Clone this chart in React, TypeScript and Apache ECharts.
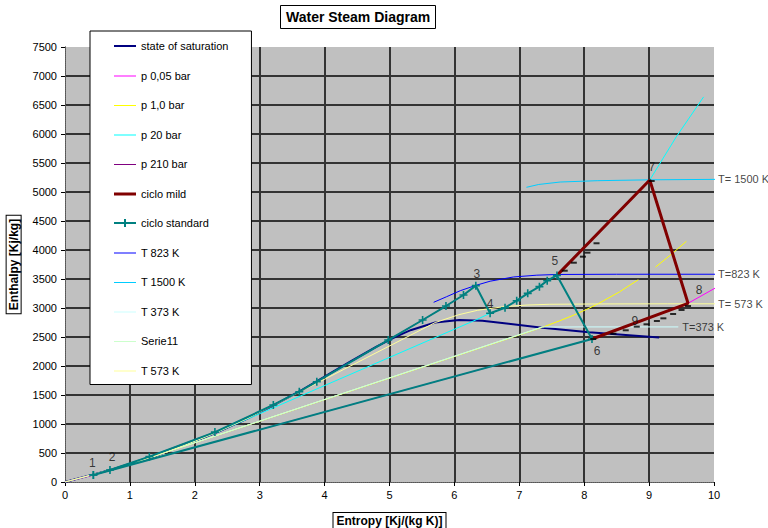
import React, { useEffect, useRef } from 'react';
import * as echarts from 'echarts';

// ---------- data (entropy s [kJ/(kg K)], enthalpy h [kJ/kg]) ----------
const satS = [0, 0.704, 1.307, 1.842, 2.331, 2.793, 3.255, 3.66, 3.916, 4.111, 4.407, 4.8, 5.054, 5.212, 5.336, 5.704, 6.073, 6.431, 6.837, 7.354, 8.075, 9.155];
const satH = [0, 209, 419, 632, 852, 1086, 1345, 1594, 1761, 1891, 2084, 2334, 2481, 2563, 2622, 2749, 2795, 2780, 2730, 2660, 2580, 2490];

const p005S = [0, 0.437, 8.12, 9.6, 10.1];
const p005H = [0, 121, 2466, 3081, 3395];

const p1S = [0, 0.704, 1.303, 7.359, 7.614, 7.834, 8.033, 8.216, 8.544, 8.834, null, 9.098, 9.345, 9.575];
const p1H = [0, 209, 417, 2668, 2776, 2875, 2974, 3074, 3278, 3488, null, 3705, 3928, 4150];

const p20S = [0, 0.704, 1.307, 1.842, 2.331, 2.447, 6.34, 6.55, 6.78, 6.96, 7.13, 7.31, 7.43, 7.58, 9.01, 9.42, 9.84];
const p20H = [0, 209, 419, 632, 852, 909, 2799, 2910, 3005, 3126, 3253, 3368, 3471, 3562, 5207, 5953, 6640];

const p210S = [0, 0.693, 1.3, 2.31, 3.21, 3.61, 3.88, 4.98, 5.51, 5.87, 6.14, 6.33];
const p210H = [0, 207, 437, 860, 1328, 1557, 1729, 2448, 2793, 3034, 3224, 3385];

const mildS = [7.58, 9.01, 9.6, 8.12];
const mildH = [3562, 5207, 3081, 2466];

const mildDashS = [7.7, 7.84, 7.98, 8.05, 8.19, 9.04, 9.6, 9.5, 9.37, 9.22, 9.12, 8.96, 8.81, 8.64, 8.45, 8.14];
const mildDashH = [3643, 3781, 3885, 3954, 4116, 5190, 3034, 2966, 2897, 2822, 2776, 2719, 2678, 2616, 2557, 2466];

const stdS = [0.437, 0.693, 1.3, 2.31, 3.21, 3.61, 3.88, 4.98, 5.51, 5.87, 6.14, 6.33, 6.55, 6.78, 6.96, 7.13, 7.31, 7.43, 7.58, 8.12, 0.437];
const stdH = [121, 207, 437, 860, 1328, 1557, 1729, 2448, 2793, 3034, 3224, 3385, 2910, 3005, 3126, 3253, 3368, 3471, 3562, 2466, 121];

const t823S = [5.68, 5.88, 6.09, 6.33, 6.55, 6.91, 7.27, 7.58, 8.5, 10.2];
const t823H = [3098, 3195, 3298, 3390, 3462, 3535, 3566, 3578, 3582, 3582];

const t1500S = [7.11, 7.3, 7.63, 8.2, 9.01, 10.2];
const t1500H = [5081, 5130, 5172, 5195, 5210, 5219];

const t373S = [0, 0.704, 1.307, 7.354, 8.0, 8.8, 9.45];
const t373H = [0, 209, 419, 2672, 2674, 2674, 2674];

const s11S = [1.307, 7.354];
const s11H = [419, 2672];

const t573S = [0, 0.704, 1.307, 1.842, 2.331, 2.793, 3.255, 5.704, 6.07, 6.36, 6.77, 7.12, 7.46, 8.22, 9.28, 10.2];
const t573H = [0, 209, 419, 632, 852, 1086, 1345, 2749, 2885, 2961, 3024, 3051, 3064, 3070, 3072, 3072];

const pointNames = ['1', '2', '3', '4', '5', '6', '7', '8', '9'];
const pointS = [0.437, 0.693, 6.33, 6.55, 7.58, 8.12, 9.01, 9.6, 8.78];
const pointH = [121, 207, 3385, 2910, 3562, 2466, 5207, 3081, 2781];

const tempNames = ['T= 1500 K', 'T=823 K', 'T= 573 K', 'T=373 K'];
const tempS = [10, 10, 10, 9.45];
const tempH = [5219, 3582, 3072, 2674];

const xTicks = { min: 0, max: 10, interval: 1 };
const yTicks = { min: 0, max: 7500, interval: 500 };

// ---------- styling ----------
const FONT = '"Liberation Sans", Arial, Helvetica, sans-serif';
const pointOffsets: number[][] = [[-1, -12], [2, -13], [1, -12], [0, -9], [-2, -14], [5, 12], [2, -13], [11, -13], [0, 0]];

function pairs(s: (number | null)[], h: (number | null)[]) {
  return s.map((v, i) => (v == null || h[i] == null ? '-' : [v, h[i]]));
}

function lineSeries(name: string, s: (number | null)[], h: (number | null)[], color: string, width: number, z: number) {
  return {
    type: 'line',
    name,
    data: pairs(s, h),
    symbol: 'none',
    showSymbol: false,
    connectNulls: false,
    lineStyle: { color, width },
    itemStyle: { color },
    z,
    silent: true,
  };
}

const CROSS = 'path://M4,0L6,0L6,4L10,4L10,6L6,6L6,10L4,10L4,6L0,6L0,4L4,4Z';
const ICON1 = 'path://M0,0L0,14M0,7H22V8H0Z';
const ICON2 = 'path://M0,0L0,14M0,6H22V8H0Z';
const ICON3 = 'path://M0,0L0,14M0,6H22V9H0Z';
const ICONX = 'path://M0,0L0,14M0,6H22V8H0ZM10,3H12V11H10Z';

export default function App() {
  const ref = useRef<HTMLDivElement>(null);
  useEffect(() => {
    if (!ref.current) return;
    const chart = echarts.init(ref.current, null, { renderer: 'svg' });
    const dotted = { color: '#555', width: 1, type: [1, 1] as any };
    const legendItems = [
      { name: 'state of saturation', icon: ICON2 },
      { name: 'p 0,05 bar', icon: ICON1 },
      { name: 'p 1,0 bar', icon: ICON1 },
      { name: 'p 20 bar', icon: ICON1 },
      { name: 'p 210 bar', icon: ICON1 },
      { name: 'ciclo mild', icon: ICON3 },
      { name: 'ciclo standard', icon: ICONX },
      { name: 'T 823 K', icon: ICON1 },
      { name: 'T 1500 K', icon: ICON1 },
      { name: 'T 373 K', icon: ICON1 },
      { name: 'Serie11', icon: ICON1 },
      { name: 'T 573 K', icon: ICON1 },
    ];
    const option: any = {
      animation: false,
      backgroundColor: '#ffffff',
      title: {
        text: 'Water Steam Diagram',
        left: 280,
        top: 5,
        padding: [5, 6],
        borderColor: '#000',
        borderWidth: 1,
        backgroundColor: '#fff',
        textStyle: { fontFamily: FONT, fontSize: 14, fontWeight: 'bold', color: '#000' },
      },
      legend: {
        orient: 'vertical',
        left: 90,
        top: 31,
        itemWidth: 22,
        itemHeight: 14,
        itemGap: 15.5,
        padding: [8, 23, 7, 24],
        backgroundColor: '#fff',
        borderColor: '#000',
        borderWidth: 1,
        selectedMode: false,
        symbolKeepAspect: true,
        textStyle: { fontFamily: FONT, fontSize: 11, color: '#000', lineHeight: 14 },
        data: legendItems,
        z: 20,
      },
      grid: {
        left: 65, right: 54, top: 47, bottom: 46,
        containLabel: false,
        outerBoundsMode: 'none',
        show: true, backgroundColor: '#c0c0c0', borderWidth: 0,
      },
      xAxis: [
        {
          type: 'value', ...xTicks,
          name: 'Entropy [Kj/(kg K)]',
          nameLocation: 'middle',
          nameGap: 31,
          nameTextStyle: {
            fontFamily: FONT, fontSize: 12, fontWeight: 'bold', color: '#000',
            borderColor: '#000', borderWidth: 1, backgroundColor: '#fff', padding: [2, 3, 1, 3],
          },
          axisLine: { show: true, onZero: false, lineStyle: dotted },
          axisTick: { show: true, length: 4, lineStyle: { color: '#000', width: 1 } },
          axisLabel: { fontFamily: FONT, fontSize: 11, color: '#000', margin: 7, showMinLabel: true, showMaxLabel: true, formatter: (v: number) => String(v) },
          splitLine: { show: true, showMinLine: false, showMaxLine: false, lineStyle: { color: '#333', width: 2 } },
        },
        {
          type: 'value', ...xTicks, position: 'top',
          axisLine: { show: true, lineStyle: dotted },
          axisTick: { show: false }, axisLabel: { show: false }, splitLine: { show: false },
        },
      ],
      yAxis: [
        {
          type: 'value', ...yTicks,
          name: 'Enthalpy [Kj/kg]',
          nameLocation: 'middle',
          nameRotate: 90,
          nameGap: 40,
          nameTextStyle: {
            fontFamily: FONT, fontSize: 12, fontWeight: 'bold', color: '#000',
            borderColor: '#000', borderWidth: 1, backgroundColor: '#fff', padding: [1, 3, 1, 3],
          },
          axisLine: { show: true, onZero: false, lineStyle: dotted },
          axisTick: { show: true, length: 4, lineStyle: { color: '#000', width: 1 } },
          axisLabel: { fontFamily: FONT, fontSize: 11, color: '#000', margin: 8, showMinLabel: true, showMaxLabel: true, formatter: (v: number) => String(v) },
          splitLine: { show: true, showMinLine: false, showMaxLine: false, lineStyle: { color: '#333', width: 2 } },
        },
        {
          type: 'value', ...yTicks, position: 'right',
          axisLine: { show: true, lineStyle: dotted },
          axisTick: { show: false }, axisLabel: { show: false }, splitLine: { show: false },
        },
      ],
      series: [
        lineSeries('state of saturation', satS, satH, '#000080', 2, 3),
        lineSeries('p 0,05 bar', p005S, p005H, '#ff00ff', 1, 3),
        lineSeries('p 1,0 bar', p1S, p1H, '#ffff00', 1, 3),
        lineSeries('p 20 bar', p20S, p20H, '#00ffff', 1, 3),
        lineSeries('p 210 bar', p210S, p210H, '#800080', 1, 3),
        lineSeries('ciclo mild', mildS, mildH, '#800000', 3, 4),
        {
          ...lineSeries('ciclo standard', stdS, stdH, '#008080', 2, 5),
          symbol: CROSS,
          symbolSize: 8,
          showSymbol: true,
        },
        lineSeries('T 823 K', t823S, t823H, '#0000ff', 1, 3),
        lineSeries('T 1500 K', t1500S, t1500H, '#00ccff', 1, 3),
        lineSeries('T 373 K', t373S, t373H, '#ccffff', 1, 3),
        lineSeries('Serie11', s11S, s11H, '#ccffcc', 1, 3),
        lineSeries('T 573 K', t573S, t573H, '#ffff99', 1, 3),
        {
          type: 'scatter',
          name: 'mild markers',
          data: pairs(mildDashS, mildDashH),
          symbol: 'rect',
          symbolSize: [6, 2],
          itemStyle: { color: '#000' },
          z: 6,
          silent: true,
        },
        {
          type: 'scatter',
          name: 'point labels',
          data: pointNames.map((n, i) => ({
            name: n,
            value: [pointS[i], pointH[i]],
            label: { offset: pointOffsets[i] },
          })),
          symbolSize: 0,
          clip: false,
          label: {
            show: true, position: 'inside', formatter: '{b}',
            fontFamily: FONT, fontSize: 12, color: '#111',
          },
          z: 7,
          silent: true,
        },
        {
          type: 'scatter',
          name: 'temp labels',
          data: tempNames.map((n, i) => ({ name: n, value: [tempS[i], tempH[i]] })),
          symbolSize: 0,
          clip: false,
          label: {
            show: true, position: 'right', distance: 4, formatter: '{b}',
            fontFamily: FONT, fontSize: 11, color: '#111',
          },
          z: 7,
          silent: true,
        },
      ],
    };
    chart.setOption(option);
    return () => chart.dispose();
  }, []);
  return <div ref={ref} style={{ width: 768, height: 528, position: 'absolute', left: 0, top: 0 }} />;
}
